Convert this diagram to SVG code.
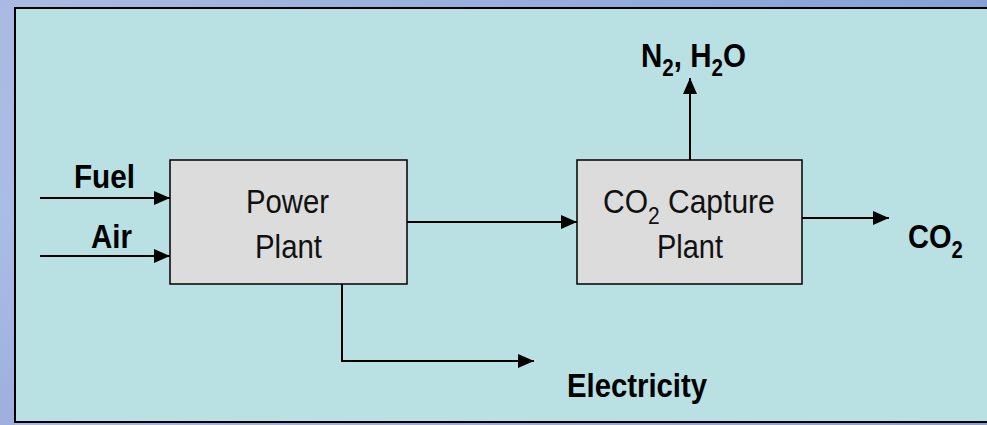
<svg xmlns="http://www.w3.org/2000/svg" width="987" height="425" viewBox="0 0 987 425">
<defs>
<linearGradient id="bg" x1="0" y1="0" x2="1" y2="0">
<stop offset="0" stop-color="#aabbe3"/>
<stop offset="1" stop-color="#86a0d8"/>
</linearGradient>
<linearGradient id="lstrip" x1="0" y1="0" x2="0" y2="1">
<stop offset="0" stop-color="#a9b9e2"/>
<stop offset="0.5" stop-color="#aabde6"/>
<stop offset="1" stop-color="#9eafdd"/>
</linearGradient>
<marker id="ah" markerUnits="userSpaceOnUse" markerWidth="16" markerHeight="14" refX="16" refY="7" orient="auto">
<path d="M0,0 L16,7 L0,14 z" fill="#000"/>
</marker>
</defs>
<style>
.lbl{font-family:"Liberation Sans",Arial,sans-serif;font-size:33px;font-weight:bold;fill:#000}
.box{fill:#dcdcdc;stroke:#000;stroke-width:1.5}
.btx{font-family:"Liberation Sans",Arial,sans-serif;font-size:33px;fill:#111}
.con{fill:none;stroke:#000;stroke-width:2}
.sub{font-size:23px}
</style>
<rect x="0" y="0" width="987" height="425" fill="url(#bg)"/>
<rect x="0" y="0" width="15" height="425" fill="url(#lstrip)"/>
<rect x="15" y="8" width="1000" height="414" fill="#b9e0e2" stroke="#000" stroke-width="2"/>

<g id="connectors">
<line class="con" x1="40" y1="198" x2="170" y2="198" marker-end="url(#ah)"/>
<line class="con" x1="40" y1="256" x2="170" y2="256" marker-end="url(#ah)"/>
<line class="con" x1="407" y1="222" x2="577" y2="222" marker-end="url(#ah)"/>
<polyline class="con" points="342,284 342,361 534,361" marker-end="url(#ah)"/>
<line class="con" x1="690" y1="160" x2="690" y2="78" marker-end="url(#ah)"/>
<line class="con" x1="802" y1="218" x2="889" y2="218" marker-end="url(#ah)"/>
</g>

<g id="power-plant">
<rect class="box" x="170" y="160" width="237" height="124"/>
<text class="btx" x="246" y="213" textLength="83" lengthAdjust="spacingAndGlyphs">Power</text>
<text class="btx" x="255" y="258" textLength="67" lengthAdjust="spacingAndGlyphs">Plant</text>
</g>

<g id="co2-capture-plant">
<rect class="box" x="577" y="160" width="225" height="124"/>
<text class="btx" transform="translate(603,213) scale(0.91,1)" x="0" y="0">CO<tspan class="sub" dy="11">2</tspan><tspan dy="-11"> Capture</tspan></text>
<text class="btx" x="657" y="258" textLength="66" lengthAdjust="spacingAndGlyphs">Plant</text>
</g>

<g id="fuel"><text class="lbl" x="74" y="188" textLength="61" lengthAdjust="spacingAndGlyphs">Fuel</text></g>
<g id="air"><text class="lbl" x="91" y="248" textLength="41" lengthAdjust="spacingAndGlyphs">Air</text></g>
<g id="electricity"><text class="lbl" x="567" y="397" textLength="140" lengthAdjust="spacingAndGlyphs">Electricity</text></g>
<g id="n2-h2o"><text class="lbl" transform="translate(641,67) scale(0.895,1)" x="0" y="0">N<tspan class="sub" dy="9">2</tspan><tspan dy="-9">, H</tspan><tspan class="sub" dy="9">2</tspan><tspan dy="-9">O</tspan></text></g>
<g id="co2-out"><text class="lbl" transform="translate(908,248) scale(0.88,1)" x="0" y="0">CO<tspan class="sub" dy="10">2</tspan></text></g>
</svg>
